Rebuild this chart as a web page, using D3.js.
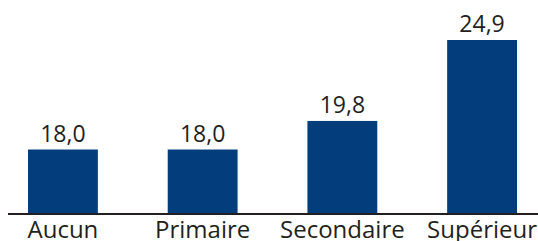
<!DOCTYPE html>
<html>
<head>
<meta charset="utf-8">
<script src="https://cdn.jsdelivr.net/npm/d3@7"></script>
<style>
  body { margin: 0; background: #fff; }
  .label { font-family: "Open Sans", sans-serif; fill: #231f20; }
</style>
</head>
<body>
<div class="bar-chart"></div>
<script>
// data
var categories = ["Aucun", "Primaire", "Secondaire", "Supérieur"]
var values = [18.0, 18.0, 19.8, 24.9]

var width = 538,
    height = 241

var svg = d3.select(".bar-chart")
  .append("svg")
    .attr("width", width)
    .attr("height", height)

var x = d3.scaleBand()
          .domain(categories)
          .range([28, 517])
          .paddingInner(0.5)
          .paddingOuter(0)

// bars start from ~14, not zero
var y = d3.scaleLinear()
          .domain([14, d3.max(values)])
          .range([213, 40])

svg.selectAll("rect")
  .data(values)
  .enter()
  .append("rect")
    .attr("x", function(d, i) { return x(categories[i]); })
    .attr("y", function(d) { return y(d); })
    .attr("width", x.bandwidth())
    .attr("height", function(d) { return y.range()[0] - y(d); })
    .attr("fill", "#033d7b")

// baseline
svg.append("line")
    .attr("x1", 8)
    .attr("x2", width)
    .attr("y1", 214)
    .attr("y2", 214)
    .attr("stroke", "#231f20")
    .attr("stroke-width", 2)

// value labels
svg.selectAll(".value")
  .data(values)
  .enter()
  .append("text")
    .attr("class", "label value")
    .attr("x", function(d, i) { return x(categories[i]) + x.bandwidth() / 2; })
    .attr("y", function(d) { return y(d) - 8; })
    .attr("text-anchor", "middle")
    .style("font-size", "23px")
    .text(function(d) { return d3.format(".1f")(d).replace(".", ","); })

// category labels
svg.selectAll(".cat")
  .data(categories)
  .enter()
  .append("text")
    .attr("class", "label cat")
    .attr("x", function(d) { return x(d) + x.bandwidth() / 2; })
    .attr("y", 238)
    .attr("text-anchor", "middle")
    .style("font-size", "24px")
    .text(function(d) { return d; })
</script>
</body>
</html>
